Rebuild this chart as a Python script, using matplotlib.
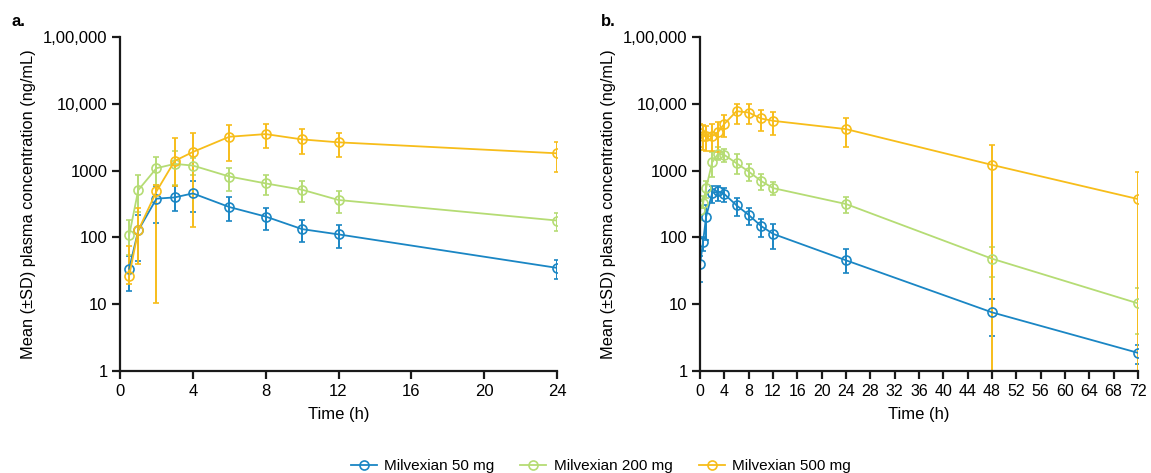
import matplotlib
matplotlib.use("Agg")
import matplotlib.pyplot as plt
from matplotlib.ticker import FixedLocator, FixedFormatter, NullLocator
import numpy as np

plt.rcParams['font.family'] = ['Liberation Sans', 'DejaVu Sans']

# ---- data: panel a (single dose, 0-24 h) ----
time_a = [0.5, 1, 2, 3, 4, 6, 8, 10, 12, 24]
mean_a = {
    "50": [34, 127, 380, 397, 456, 285, 205, 133, 111, 35],
    "200": [107, 511, 1086, 1260, 1190, 816, 643, 517, 363, 179],
    "500": [26.5, 127, 488, 1396, 1900, 3210, 3520, 2930, 2650, 1815],
}
upper_a = {
    "50": [53, 219, 593, 580, 687, 397, 276, 181, 151, 46],
    "200": [181, 850, 1580, 1950, 1550, 1110, 845, 687, 499, 232],
    "500": [74, 276, 614, 3030, 3600, 4800, 5070, 4180, 3600, 2710],
}
lower_a = {
    "50": [16, 44, 165, 252, 240, 175, 131, 86, 70, 24],
    "200": [55, 240, 600, 600, 850, 488, 425, 339, 230, 124],
    "500": [20, 40, 10.6, 580, 142, 1396, 2155, 1775, 1620, 946],
}

# ---- data: panel b (multiple dose, 0-72 h) ----
time_b = [0, 0.5, 1, 2, 3, 4, 6, 8, 10, 12, 24, 48, 72]
mean_b = {
    "50": [39.6, 86, 205, 461, 488, 445, 302, 217, 149, 113, 45.4, 7.55, 1.87],
    "200": [260, 327, 547, 1333, 1795, 1715, 1288, 968, 703, 547, 316, 48, 10.3],
    "500": [3600, 3325, 3250, 3290, 3810, 5010, 7750, 7400, 6030, 5560, 4180, 1217, 375],
}
upper_b = {
    "50": [53, 100, 302, 593, 593, 547, 388, 276, 189, 159, 66, 11.9, 2.41],
    "200": [347, 420, 687, 1923, 2230, 2080, 1754, 1260, 894, 672, 402, 72, 17.4],
    "500": [5070, 4800, 4680, 4900, 5370, 6750, 10000, 10000, 8200, 7570, 6230, 2415, 946],
}
lower_b = {
    "50": [21.8, 62.5, 93, 327, 355, 335, 212, 151, 101, 68, 29, 3.4, 1.26],
    "200": [185, 276, 388, 816, 1445, 1366, 894, 687, 517, 425, 232, 25.6, 3.6],
    "500": [2280, 2034, 1990, 1990, 1923, 3210, 5070, 4900, 3900, 3400, 2230, 0.01, 0.01],
}

doses = ["50", "200", "500"]
dose_labels = ["Milvexian 50 mg", "Milvexian 200 mg", "Milvexian 500 mg"]
colors = {"50": "#1a86c4", "200": "#b5dc74", "500": "#f7bd1a"}

y_ticks = [1, 10, 100, 1000, 10000, 100000]
y_ticklabels = ["1", "10", "100", "1000", "10,000", "1,00,000"]

FS = 12


def draw_panel(ax, t, means, uppers, lowers, xticks, xmax, xfs):
    for d in doses:
        m = np.array(means[d], dtype=float)
        up = np.array(uppers[d], dtype=float)
        lo = np.array(lowers[d], dtype=float)
        ax.errorbar(t, m, yerr=[m - lo, up - m], color=colors[d],
                    marker='o', markersize=6.5, markerfacecolor='none',
                    markeredgewidth=1.2, linewidth=1.3, elinewidth=1.4,
                    capsize=2.5, capthick=1.4)
    ax.set_yscale('log')
    ax.set_ylim(1, 100000)
    ax.set_xlim(0, xmax)
    ax.yaxis.set_major_locator(FixedLocator(y_ticks))
    ax.yaxis.set_major_formatter(FixedFormatter(y_ticklabels))
    ax.yaxis.set_minor_locator(NullLocator())
    ax.set_xticks(xticks)
    ax.spines['top'].set_visible(False)
    ax.spines['right'].set_visible(False)
    for s in ['left', 'bottom']:
        ax.spines[s].set_linewidth(1.6)
        ax.spines[s].set_color('#1a1a1a')
    ax.tick_params(axis='both', direction='out', length=6, width=1.6,
                   labelsize=FS, color='#1a1a1a', pad=3)
    ax.tick_params(axis='x', labelsize=xfs)
    ax.set_xlabel("Time (h)", fontsize=FS, labelpad=6)
    ax.set_ylabel("Mean (±SD) plasma concentration (ng/mL)", fontsize=11.8, labelpad=5)


fig = plt.figure(figsize=(11.51, 4.73), dpi=100)
ax_a = fig.add_axes([0.1043, 0.2156, 0.3796, 0.7062])
ax_b = fig.add_axes([0.6082, 0.2156, 0.3805, 0.7062])

draw_panel(ax_a, time_a, mean_a, upper_a, lower_a, list(range(0, 25, 4)), 24, FS)
draw_panel(ax_b, time_b, mean_b, upper_b, lower_b, list(range(0, 73, 4)), 72, 11.5)

fig.text(0.010, 0.945, "a.", fontsize=FS, fontweight='bold')
fig.text(0.522, 0.945, "b.", fontsize=FS, fontweight='bold')

leg_handles = [plt.Line2D([], [], color=colors[d], marker='o', markersize=6.5,
                          markerfacecolor='none', markeredgewidth=1.2, linewidth=1.3)
               for d in doses]
fig.legend(leg_handles, dose_labels, loc='lower center', bbox_to_anchor=(0.522, -0.03),
           ncol=3, frameon=False, fontsize=11, handlelength=1.7, handletextpad=0.5,
           columnspacing=1.7)

fig.savefig("out.png", dpi=100)
